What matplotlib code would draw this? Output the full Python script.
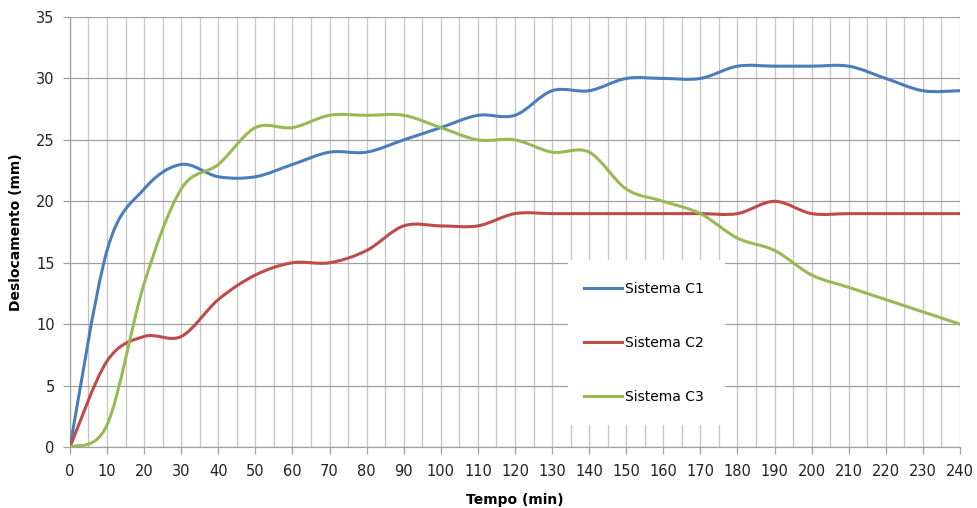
import numpy as np
import matplotlib.pyplot as plt
from matplotlib.path import Path
from matplotlib.patches import PathPatch, Rectangle
from matplotlib.lines import Line2D

plt.rcParams['font.family'] = ['DejaVu Sans']

# leituras a cada 10 min
tempo = list(range(0, 241, 10))
sistema_c1 = [0, 16, 21, 23, 22, 22, 23, 24, 24, 25, 26, 27, 27, 29, 29,
              30, 30, 30, 31, 31, 31, 31, 30, 29, 29]
sistema_c2 = [0, 7, 9, 9, 12, 14, 15, 15, 16, 18, 18, 18, 19, 19, 19,
              19, 19, 19, 19, 20, 19, 19, 19, 19, 19]
sistema_c3 = [0, 1.8, 13.3, 21, 23, 26, 26, 27, 27, 27, 26, 25, 25, 24, 24,
              21, 20, 19, 17, 16, 14, 13, 12, 11, 10]

series = [("Sistema C1", sistema_c1, "#4A7EBB"),
          ("Sistema C2", sistema_c2, "#BE4B48"),
          ("Sistema C3", sistema_c3, "#98B954")]


def smooth_path(x, y):
    """Curva suavizada (Bezier cubica tipo Catmull-Rom) passando pelos pontos."""
    p = np.column_stack([x, y]).astype(float)
    n = len(p)
    verts = [p[0]]
    codes = [Path.MOVETO]
    for i in range(n - 1):
        p0 = p[i - 1] if i > 0 else p[i]
        p1, p2 = p[i], p[i + 1]
        p3 = p[i + 2] if i + 2 < n else p[i + 1]
        c1 = p1 + (p2 - p0) / 6.0
        c2 = p2 - (p3 - p1) / 6.0
        verts += [c1, c2, p2]
        codes += [Path.CURVE4] * 3
    return Path(verts, codes)


fig = plt.figure(figsize=(9.77, 5.08), dpi=100)
ax = fig.add_axes([0.0716, 0.120, 0.911, 0.8465])

for label, vals, color in series:
    ax.add_patch(PathPatch(smooth_path(tempo, vals), fill=False,
                           edgecolor=color, lw=2.2, zorder=3,
                           capstyle='round', joinstyle='round'))

ax.set_xlim(0, 240)
ax.set_ylim(0, 35)
ax.set_xticks(range(0, 241, 10))
ax.set_xticks(range(0, 241, 5), minor=True)
ax.set_yticks(range(0, 36, 5))
ax.set_axisbelow(True)
ax.grid(which='major', axis='y', color='#A0A0A0', lw=0.9)
ax.grid(which='both', axis='x', color='#C4C4C4', lw=0.9)
ax.tick_params(axis='both', which='major', length=5, color='#A0A0A0',
               width=0.9, labelsize=10.5, colors='#222222')
ax.tick_params(axis='x', which='major', pad=7)
ax.tick_params(axis='y', which='major', pad=6)
ax.tick_params(axis='x', which='minor', length=0)
for s in ['top', 'right']:
    ax.spines[s].set_visible(False)
for s in ['left', 'bottom']:
    ax.spines[s].set_color('#A0A0A0')
    ax.spines[s].set_linewidth(0.9)

ax.set_xlabel("Tempo (min)", fontsize=10, fontweight='bold', labelpad=10)
ax.set_ylabel("Deslocamento (mm)", fontsize=10, fontweight='bold', labelpad=9)

# caixa branca da legenda sobre a grade
ax.add_patch(Rectangle((0.56, 0.051), 0.176, 0.384, transform=ax.transAxes,
                       facecolor='white', edgecolor='none', zorder=1))
handles = [Line2D([], [], color=c, lw=2.2) for _, _, c in series]
ax.legend(handles, [s[0] for s in series], loc='center left',
          bbox_to_anchor=(0.563, 0.242), frameon=False, fontsize=10,
          handlelength=2.75, handletextpad=0.2, labelspacing=2.9)

fig.savefig("out.png", dpi=100)
